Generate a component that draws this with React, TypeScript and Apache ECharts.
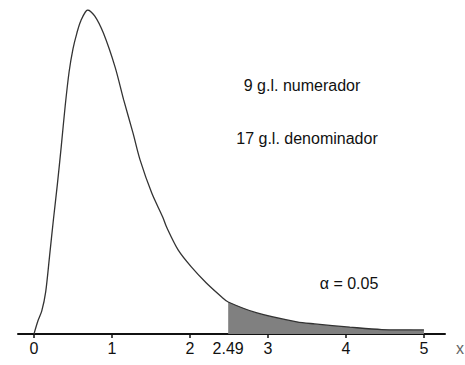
import React, { useEffect, useRef } from "react";
import * as echarts from "echarts";

// x values and density (F distribution, 9 and 17 d.f.)
const xs = [0, 0.05, 0.1, 0.15, 0.2, 0.25, 0.3, 0.35, 0.4, 0.45, 0.5, 0.55, 0.6, 0.69, 0.78, 0.89, 1.04, 1.15, 1.27, 1.36, 1.51, 1.65, 1.7, 1.85, 2.02, 2.21, 2.41, 2.49, 2.86, 3.37, 3.6, 4.05, 4.46, 5.0];
const density = [0, 0.032, 0.057, 0.104, 0.193, 0.284, 0.37, 0.464, 0.563, 0.647, 0.704, 0.743, 0.773, 0.8, 0.785, 0.743, 0.659, 0.578, 0.496, 0.43, 0.348, 0.289, 0.264, 0.207, 0.165, 0.126, 0.091, 0.079, 0.052, 0.03, 0.025, 0.017, 0.011, 0.01];
const critical = 2.49;
const tickValues = [0, 1, 2, 3, 4, 5];
const labelValues = [0, 1, 2, 2.49, 3, 4, 5];
const annotations = ["9 g.l. numerador", "17 g.l. denominador"];
const alphaText = "α = 0.05";

const FONT = "'Liberation Sans Narrow', 'Liberation Sans', Arial, sans-serif";

export default function App() {
  const ref = useRef<HTMLDivElement>(null);
  useEffect(() => {
    if (!ref.current) return;
    const chart = echarts.init(ref.current, null, { renderer: "svg" });
    const curve = xs.map((x, i) => [x, density[i]]);
    const tail = curve.filter((p) => p[0] >= critical);
    const txt = (text: string, x: number, y: number, size: number, fill: string) => ({
      type: "text",
      x,
      y,
      style: { text, fontSize: size, fontFamily: FONT, fill, align: "center", verticalAlign: "middle" },
    });
    chart.setOption({
      animation: false,
      backgroundColor: "#ffffff",
      grid: { left: 18, right: 20, top: 10, bottom: 31 },
      xAxis: {
        type: "value",
        min: -0.205,
        max: 5.27,
        splitLine: { show: false },
        axisLine: { show: true, lineStyle: { color: "#111", width: 2 } },
        axisTick: { show: true, customValues: tickValues, length: 4, lineStyle: { color: "#111", width: 1.5 } },
        axisLabel: {
          customValues: labelValues,
          margin: 6,
          fontSize: 16,
          color: "#111",
          fontFamily: FONT,
          formatter: (v: number) => String(v),
        },
      },
      yAxis: { type: "value", min: 0, max: 0.8, show: false },
      graphic: [
        txt(annotations[0], 302, 85, 16, "#111"),
        txt(annotations[1], 307, 138, 16, "#111"),
        txt(alphaText, 349, 283, 16, "#111"),
        txt("x", 460, 348, 16, "#666"),
      ],
      series: [
        {
          type: "line",
          data: tail,
          smooth: 0.3,
          symbol: "none",
          lineStyle: { width: 0 },
          areaStyle: { color: "#808080", opacity: 1 },
          z: 1,
        },
        {
          type: "line",
          data: curve,
          smooth: 0.3,
          symbol: "none",
          lineStyle: { color: "#333", width: 1.3 },
          z: 2,
        },
      ],
    });
    return () => chart.dispose();
  }, []);
  return <div ref={ref} style={{ position: "fixed", left: 0, top: 0, width: 465, height: 365 }} />;
}
